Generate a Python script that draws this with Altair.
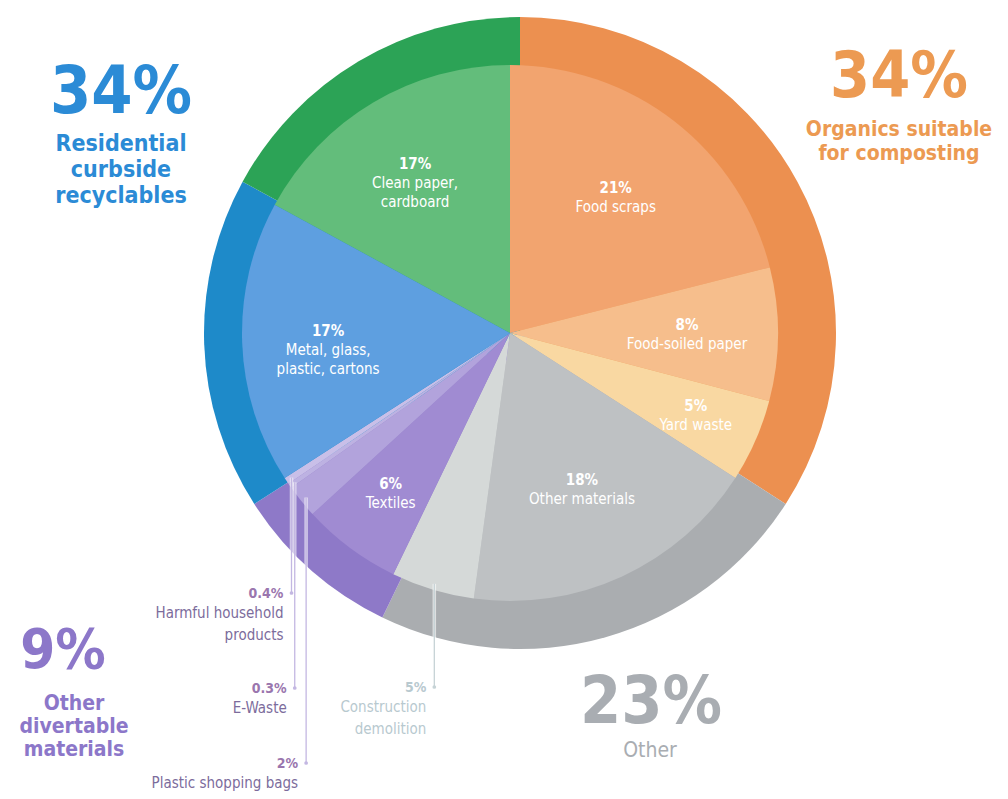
import math
import altair as alt
import pandas as pd

# ---------------- data ----------------
names = ["Food scraps", "Food-soiled paper", "Yard waste", "Other materials",
         "Construction\ndemolition", "Textiles", "Plastic shopping bags", "E-Waste",
         "Harmful household\nproducts", "Metal, glass,\nplastic, cartons",
         "Clean paper,\ncardboard"]
values = [21, 8, 5, 18, 5, 6, 2, 0.3, 0.4, 17, 17]
pct_labels = ["21%", "8%", "5%", "18%", "5%", "6%", "2%", "0.3%", "0.4%", "17%", "17%"]
inside = [True, True, True, True, False, True, False, False, False, True, True]

group_names = ["Organics suitable\nfor composting", "Other", "Other\ndivertable\nmaterials",
               "Residential\ncurbside\nrecyclables", ""]
group_values = [34, 23, 8.7, 17, 17]
group_pcts = ["34%", "23%", "9%", "34%", ""]

callout_items = ["Harmful household\nproducts", "E-Waste", "Plastic shopping bags",
                 "Construction\ndemolition"]

# ---------------- styles / layout ----------------
FONT = "Liberation Sans Narrow, DejaVu Sans Condensed, sans-serif"
inner_colors = ["#F2A46F", "#F6BE8C", "#F9D8A2", "#BEC1C3", "#D5D9D8", "#A08BD2",
                "#B2A3DC", "#BDB2E2", "#C9BFE8", "#5E9FE0", "#63BD7B"]
outer_colors = ["#EC9050", "#AAADB0", "#8E79C8", "#1E8AC9", "#2CA356"]
label_r = [172, 177, 203, 172, 0, 200, 0, 0, 0, 182, 186]

OFF = 8  # page margin
CX_IN, CY_IN, R_IN = 510 - OFF, 333 - OFF, 268
CX_OUT, CY_OUT, R_OUT = 520 - OFF, 333 - OFF, 316
R_LEAD = 262
callout_baseline = [598, 693, 768, 692]
callout_color_pct = ["#9A76AE", "#9A76AE", "#9A76AE", "#B8C9CF"]
callout_color_txt = ["#7C6C9C", "#7C6C9C", "#7C6C9C", "#B8C9CF"]
line_colors = ["#C3B7E2", "#C3B7E2", "#C3B7E2", "#C6D3D6"]

group_color = ["#EC9A52", "#A9ADB2", "#8C77C9", "#2B8BD6", "#ffffff"]
group_pct_xy = [(899, 97), (651, 723), (63, 668), (121, 113), (0, 0)]
group_txt_xy = [(899, 136), (650, 757), (74, 710), (121, 151), (0, 0)]
group_pct_size = [64, 66, 56, 66, 10]
group_txt_size = [21, 21, 21, 23, 10]
group_txt_weight = ["bold", "normal", "bold", "bold", "bold"]
group_line_h = [24, 24, 23, 26, 24]

# ---------------- tables ----------------
inner_df = pd.DataFrame({
    "name": names, "value": values, "order": list(range(len(values))),
    "color": inner_colors,
    "pct_show": [p if s else "" for p, s in zip(pct_labels, inside)],
    "name_show": [n if s else "" for n, s in zip(names, inside)],
    "lr": label_r,
})
outer_df = pd.DataFrame({"value": group_values, "order": list(range(len(group_values))),
                         "color": outer_colors})

total = sum(values)
cum = 0
mid = {}
for n, v in zip(names, values):
    mid[n] = (cum + v / 2) / total * 2 * math.pi
    cum += v

rows = []
for i, n in enumerate(callout_items):
    a = mid[n]
    lx = CX_IN + R_LEAD * math.sin(a)
    ty = CY_IN - R_LEAD * math.cos(a)
    base = callout_baseline[i] - OFF
    rows.append({
        "lx": lx, "ty": ty, "by": base - 5,
        "tx": lx - 8, "py": base, "ny": base + 20,
        "pct": pct_labels[names.index(n)], "name": n,
        "lc": line_colors[i], "pc": callout_color_pct[i], "nc": callout_color_txt[i],
    })
call_df = pd.DataFrame(rows)

grows = []
for i in range(4):
    grows.append({
        "pct": group_pcts[i], "name": group_names[i], "color": group_color[i],
        "px": group_pct_xy[i][0] - OFF, "py": group_pct_xy[i][1] - OFF,
        "nx": group_txt_xy[i][0] - OFF, "ny": group_txt_xy[i][1] - OFF,
    })
grp_df = pd.DataFrame(grows)

# ---------------- marks ----------------
theta = alt.Theta("value:Q", stack=True)
order = alt.Order("order:Q")

outer = alt.Chart(outer_df).mark_arc(radius=R_OUT, stroke=None).encode(
    theta=theta, order=order, color=alt.Color("color:N", scale=None),
    x=alt.value(CX_OUT), y=alt.value(CY_OUT))

inner = alt.Chart(inner_df).mark_arc(radius=R_IN, stroke=None).encode(
    theta=theta, order=order, color=alt.Color("color:N", scale=None),
    x=alt.value(CX_IN), y=alt.value(CY_IN))

lab_base = alt.Chart(inner_df).transform_window(
    cum="sum(value)", sort=[alt.SortField("order")]
).transform_joinaggregate(
    total="sum(value)"
).transform_calculate(
    ang="2*PI*(datum.cum - datum.value/2)/datum.total"
).transform_calculate(
    px=f"{CX_IN} + datum.lr*sin(datum.ang)",
    py=f"{CY_IN} - datum.lr*cos(datum.ang)",
)

pct_txt = lab_base.mark_text(
    font=FONT, fontSize=15, fontWeight="bold", color="white", baseline="bottom", dy=-1
).encode(x=alt.X("px:Q", scale=None), y=alt.Y("py:Q", scale=None), text="pct_show:N")

name_txt = lab_base.mark_text(
    font=FONT, fontSize=15, color="white", baseline="top", dy=3,
    lineBreak="\n", lineHeight=19
).encode(x=alt.X("px:Q", scale=None), y=alt.Y("py:Q", scale=None), text="name_show:N")

lead_white = alt.Chart(call_df).mark_rule(strokeWidth=3.5, color="white", opacity=0.6).encode(
    x=alt.X("lx:Q", scale=None), y=alt.Y("ty:Q", scale=None), y2="by:Q")
lead = alt.Chart(call_df).mark_rule(strokeWidth=1.3).encode(
    x=alt.X("lx:Q", scale=None), y=alt.Y("ty:Q", scale=None), y2="by:Q",
    color=alt.Color("lc:N", scale=None))
dots = alt.Chart(call_df).mark_circle(size=14, opacity=1).encode(
    x=alt.X("lx:Q", scale=None), y=alt.Y("by:Q", scale=None),
    color=alt.Color("lc:N", scale=None))
c_pct = alt.Chart(call_df).mark_text(
    font=FONT, fontSize=14, fontWeight="bold", align="right", baseline="alphabetic"
).encode(x=alt.X("tx:Q", scale=None), y=alt.Y("py:Q", scale=None), text="pct:N",
         color=alt.Color("pc:N", scale=None))
c_name = alt.Chart(call_df).mark_text(
    font=FONT, fontSize=15, align="right", baseline="alphabetic", lineBreak="\n", lineHeight=22
).encode(x=alt.X("tx:Q", scale=None), y=alt.Y("ny:Q", scale=None), text="name:N",
         color=alt.Color("nc:N", scale=None))

g_layers = []
for i in range(4):
    d = grp_df.iloc[[i]]
    g_layers.append(alt.Chart(d).mark_text(
        font=FONT, fontSize=group_pct_size[i], fontWeight="bold", align="center",
        baseline="alphabetic", color=group_color[i]
    ).encode(x=alt.X("px:Q", scale=None), y=alt.Y("py:Q", scale=None), text="pct:N"))
    g_layers.append(alt.Chart(d).mark_text(
        font=FONT, fontSize=group_txt_size[i], fontWeight=group_txt_weight[i], align="center",
        baseline="alphabetic", color=group_color[i], lineBreak="\n", lineHeight=group_line_h[i]
    ).encode(x=alt.X("nx:Q", scale=None), y=alt.Y("ny:Q", scale=None), text="name:N"))

chart = alt.layer(
    outer, inner, pct_txt, name_txt, lead_white, lead, dots, c_pct, c_name, *g_layers
).properties(width=992, height=783, padding=0, autosize="none",
             background="white").configure_view(stroke=None)

chart.save("out.html", embed_options={"renderer": "svg", "actions": False})
